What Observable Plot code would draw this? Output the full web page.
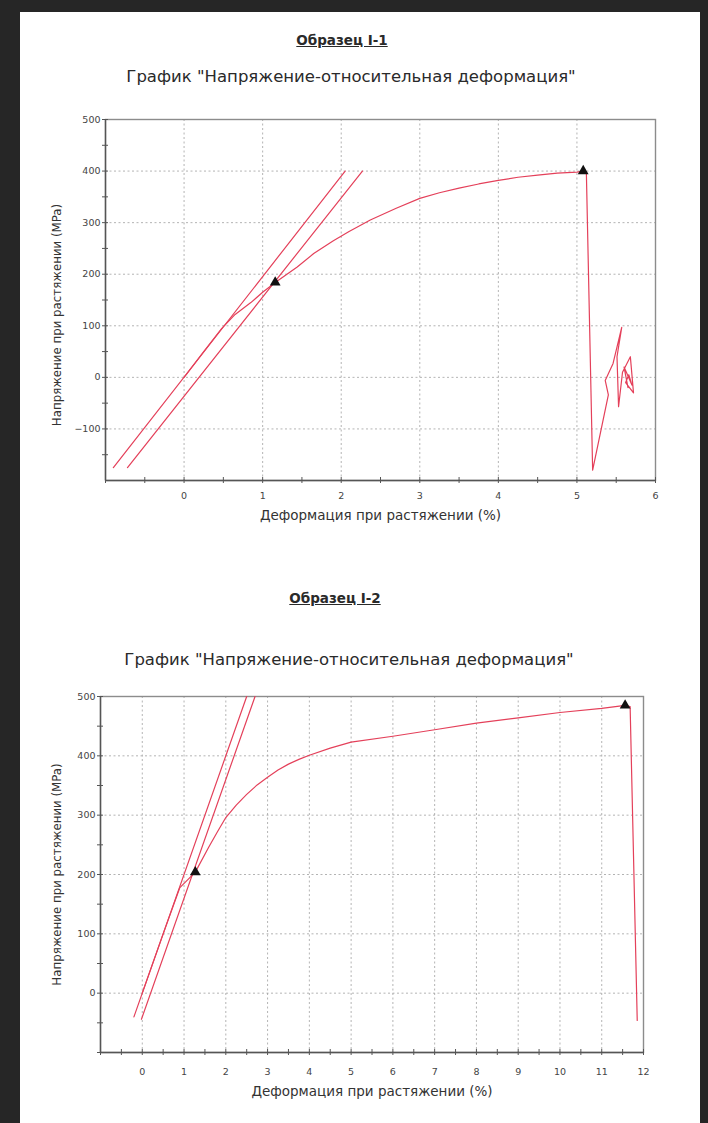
<!DOCTYPE html>
<html><head><meta charset="utf-8">
<script src="https://cdn.jsdelivr.net/npm/d3@7"></script>
<script src="https://cdn.jsdelivr.net/npm/@observablehq/plot@0.6"></script>
<style>
body{margin:0;background:#262626;width:708px;height:1123px;overflow:hidden;position:relative;font-family:"DejaVu Sans",sans-serif;}
#page{position:absolute;left:20px;top:12px;width:680px;height:1111px;background:#fff;}
.t{position:absolute;transform:translateX(-50%);white-space:nowrap;color:#2a2a2a;line-height:20px;}
.h{font-weight:bold;text-decoration:underline;font-size:13.5px;}
.s{font-size:16.5px;}
.c{position:absolute;left:22px;}
</style></head><body>
<div id="page"></div>
<div class="t h" style="left:342px;top:30px">Образец I-1</div>
<div class="t s" style="left:351px;top:67px">График "Напряжение-относительная деформация"</div>
<div class="t h" style="left:335px;top:588px">Образец I-2</div>
<div class="t s" style="left:349px;top:650px">График "Напряжение-относительная деформация"</div>
<div class="c" id="c1" style="top:110px"></div>
<div class="c" id="c2" style="top:686px"></div>
<script>
// ---------- Chart I-1 data ----------
const s1LineAX = [-0.9, 2.05];
const s1LineAY = [-175, 400];
const s1LineBX = [-0.72, 2.27];
const s1LineBY = [-175, 400];
const s1CurveX = [0, 0.25, 0.48, 0.65, 0.85, 1.0, 1.16, 1.44, 1.65, 1.9, 2.1, 2.37, 2.7, 3.0, 3.25, 3.5, 3.75, 4.0, 4.25, 4.5, 4.75, 5.0, 5.08, 5.12, 5.2, 5.4, 5.36, 5.46, 5.57, 5.51, 5.53, 5.58, 5.68, 5.72, 5.62, 5.66, 5.7, 5.6, 5.65];
const s1CurveY = [0, 50, 95, 122, 145, 165, 184, 214, 240, 265, 283, 305, 328, 347, 358, 367, 375, 382, 388, 392, 396, 398, 400, 398, -180, -34, -6, 27, 97, 40, -57, 10, 40, -30, -10, 5, -15, 20, -20];
const s1PeakX = [1.16, 5.08];
const s1PeakY = [184, 400];
const s1XLabels = [0, 1, 2, 3, 4, 5, 6];
const s1XMinor = [-1, -0.5, 0, 0.5, 1, 1.5, 2, 2.5, 3, 3.5, 4, 4.5, 5, 5.5, 6];
const s1YLabels = [-100, 0, 100, 200, 300, 400, 500];
const s1YMinor = [-150, -100, -50, 0, 50, 100, 150, 200, 250, 300, 350, 400, 450, 500];
const s1GridX = [0, 1, 2, 3, 4, 5];
const s1GridY = [-100, 0, 100, 200, 300, 400];

// ---------- Chart I-2 data ----------
const s2LineAX = [-0.2, 2.5];
const s2LineAY = [-40, 500];
const s2LineBX = [-0.02, 2.7];
const s2LineBY = [-44, 500];
const s2CurveX = [0, 0.5, 0.9, 1.27, 1.59, 1.8, 2.0, 2.25, 2.5, 2.75, 3.0, 3.25, 3.5, 3.75, 4.0, 4.5, 5.0, 6.0, 7.0, 8.0, 9.0, 10.0, 11.0, 11.56, 11.68, 11.85];
const s2CurveY = [0, 100, 178, 204, 246, 272, 296, 317, 335, 351, 364, 376, 386, 394, 401, 413, 423, 433, 444, 455, 464, 473, 480, 485, 483, -46];
const s2PeakX = [1.27, 11.56];
const s2PeakY = [204, 485];
const s2XLabels = [0, 1, 2, 3, 4, 5, 6, 7, 8, 9, 10, 11, 12];
const s2XMinor = [-1, -0.5, 0, 0.5, 1, 1.5, 2, 2.5, 3, 3.5, 4, 4.5, 5, 5.5, 6, 6.5, 7, 7.5, 8, 8.5, 9, 9.5, 10, 10.5, 11, 11.5, 12];
const s2YLabels = [0, 100, 200, 300, 400, 500];
const s2YMinor = [-100, -50, 0, 50, 100, 150, 200, 250, 300, 350, 400, 450, 500];
const s2GridX = [0, 1, 2, 3, 4, 5, 6, 7, 8, 9, 10, 11];
const s2GridY = [0, 100, 200, 300, 400];

const xTitle = "Деформация при растяжении (%)";
const yTitle = "Напряжение при растяжении (MPa)";
const RED = "#e4405a";

const pts = (X, Y) => X.map((x, i) => ({x, y: Y[i]}));

function chart(o) {
  return Plot.plot({
    width: 660, height: o.height,
    marginLeft: o.ml, marginTop: o.mt, marginRight: o.mr, marginBottom: o.mb,
    x: {domain: o.xDomain},
    y: {domain: o.yDomain},
    style: {fontFamily: "DejaVu Sans, sans-serif", color: "#333", background: "transparent", overflow: "visible"},
    marks: [
      Plot.gridX(o.gridX, {stroke: "#a0a0a0", strokeOpacity: 0.8, strokeDasharray: "2,2.5"}),
      Plot.gridY(o.gridY, {stroke: "#a0a0a0", strokeOpacity: 0.8, strokeDasharray: "2,2.5"}),
      Plot.frame({stroke: "#8c8c8c", strokeWidth: 1.4}),
      Plot.ruleY([o.yDomain[0]], {stroke: "#555", strokeWidth: 1.4}),
      Plot.ruleX([o.xDomain[0]], {stroke: "#555", strokeWidth: 1.4}),
      Plot.axisX(o.xMinor, {tickSize: 6, dy: -3, text: null, label: null, stroke: "#555"}),
      Plot.axisY(o.yMinor, {tickSize: 6, dx: 3, text: null, label: null, stroke: "#555"}),
      Plot.axisX(o.xLabels, {tickSize: 0, tickPadding: o.xPad, fontSize: 9.5, label: null, fill: "#444"}),
      Plot.axisY(o.yLabels, {tickSize: 0, tickPadding: 5, fontSize: 9.5, label: null, fill: "#444"}),
      Plot.text([xTitle], {frameAnchor: "bottom", textAnchor: "middle", dy: o.xOff, fontSize: 13.5, fill: "#333"}),
      Plot.text([yTitle], {frameAnchor: "left", textAnchor: "middle", dx: -o.yOff, dy: o.yShift, rotate: -90, fontSize: 11.8, fill: "#333"}),
      Plot.line(pts(o.aX, o.aY), {x: "x", y: "y", stroke: RED, strokeWidth: 1.2, clip: true}),
      Plot.line(pts(o.bX, o.bY), {x: "x", y: "y", stroke: RED, strokeWidth: 1.2, clip: true}),
      Plot.line(pts(o.cX, o.cY), {x: "x", y: "y", stroke: RED, strokeWidth: 1.2, clip: true}),
      Plot.dot(pts(o.pX, o.pY), {x: "x", y: "y", symbol: "triangle", r: 4, fill: "#111"})
    ]
  });
}

document.getElementById("c1").append(chart({
  height: 440, ml: 83, mt: 9, mr: 27, mb: 70,
  xDomain: [-1, 6], yDomain: [-200, 500],
  gridX: s1GridX, gridY: s1GridY, xMinor: s1XMinor, yMinor: s1YMinor,
  xLabels: s1XLabels, yLabels: s1YLabels, xPad: 12, xOff: 39, yOff: 48, yShift: 15,
  aX: s1LineAX, aY: s1LineAY, bX: s1LineBX, bY: s1LineBY,
  cX: s1CurveX, cY: s1CurveY, pX: s1PeakX, pY: s1PeakY
}));

document.getElementById("c2").append(chart({
  height: 420, ml: 78, mt: 10, mr: 39, mb: 54,
  xDomain: [-1, 12], yDomain: [-100, 500],
  gridX: s2GridX, gridY: s2GridY, xMinor: s2XMinor, yMinor: s2YMinor,
  xLabels: s2XLabels, yLabels: s2YLabels, xPad: 16, xOff: 43, yOff: 43, yShift: 0,
  aX: s2LineAX, aY: s2LineAY, bX: s2LineBX, bY: s2LineBY,
  cX: s2CurveX, cY: s2CurveY, pX: s2PeakX, pY: s2PeakY
}));
</script>
</body></html>
